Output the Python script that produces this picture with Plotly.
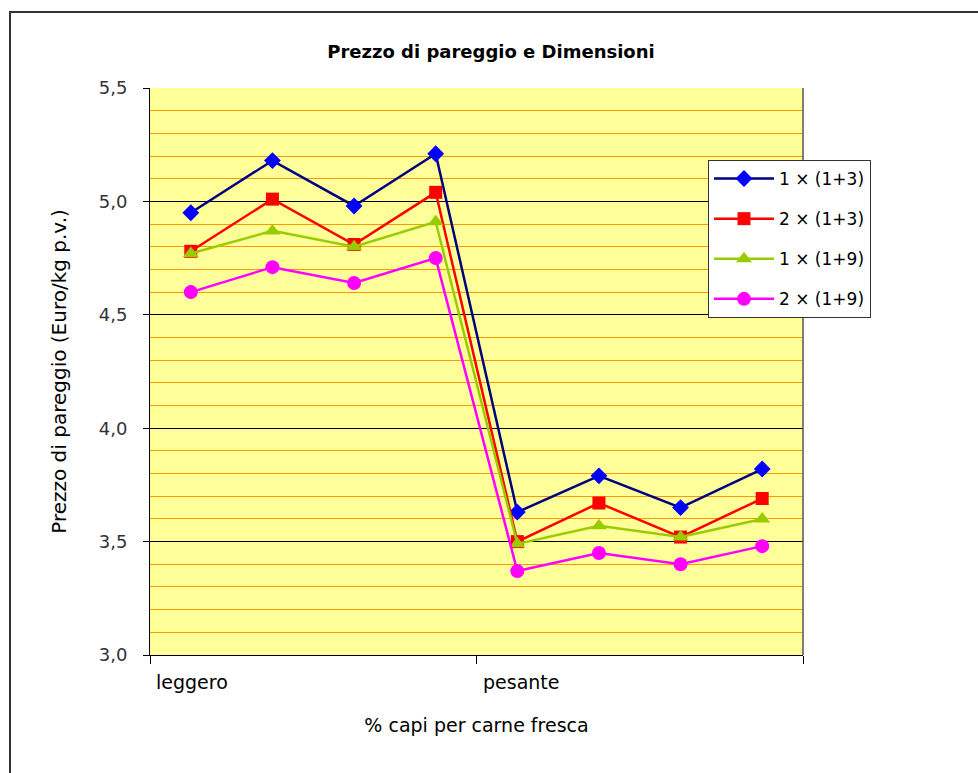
import plotly.graph_objects as go

# Data
positions = [0.5, 1.5, 2.5, 3.5, 4.5, 5.5, 6.5, 7.5]
group_labels = ["leggero", "pesante"]
group_starts = [0, 4]

series_names = ["1 \u00d7 (1+3)", "2 \u00d7 (1+3)", "1 \u00d7 (1+9)", "2 \u00d7 (1+9)"]
s1_1p3 = [4.95, 5.18, 4.98, 5.21, 3.63, 3.79, 3.65, 3.82]
s2_1p3 = [4.78, 5.01, 4.81, 5.04, 3.50, 3.67, 3.52, 3.69]
s1_1p9 = [4.77, 4.87, 4.80, 4.91, 3.49, 3.57, 3.52, 3.60]
s2_1p9 = [4.60, 4.71, 4.64, 4.75, 3.37, 3.45, 3.40, 3.48]

y_ticks = [3.0, 3.5, 4.0, 4.5, 5.0, 5.5]

styles = [
    dict(line="#000080", marker="#0000FF", symbol="diamond", size=13),
    dict(line="#FF0000", marker="#FF0000", symbol="square", size=13),
    dict(line="#99CC00", marker="#99CC00", symbol="triangle-up", size=14),
    dict(line="#FF00FF", marker="#FF00FF", symbol="circle", size=14),
]

fig = go.Figure()
for name, vals, st in zip(series_names, [s1_1p3, s2_1p3, s1_1p9, s2_1p9], styles):
    fig.add_trace(go.Scatter(
        x=positions, y=vals, name=name, mode="lines+markers",
        legendgroup=name,
        line=dict(color=st["line"], width=2.5),
        marker=dict(color=st["marker"], symbol=st["symbol"], size=st["size"],
                    line=dict(width=0)),
    ))

font_family = "DejaVu Sans, Verdana, sans-serif"

fig.update_layout(
    width=978, height=773,
    margin=dict(l=150, r=175, t=88, b=118),
    paper_bgcolor="white",
    plot_bgcolor="#FFFF99",
    separators=",.",
    font=dict(family=font_family, size=18, color="#000000"),
    title=dict(text="<b>Prezzo di pareggio e Dimensioni</b>", x=0.502, xanchor="center",
               xref="container", y=1 - 52 / 773, yanchor="middle",
               font=dict(size=18, family=font_family, color="#000000")),
    showlegend=True,
    legend=dict(
        x=(708 - 150) / 653, xanchor="left",
        y=(655 - 160) / 567, yanchor="top",
        bgcolor="white", bordercolor="#333333", borderwidth=1,
        font=dict(size=17, family=font_family, color="#000000"),
        tracegroupgap=15,
        itemwidth=60,
    ),
    xaxis=dict(
        range=[0, 8], tickvals=[0, 4, 8], showticklabels=False,
        ticks="outside", ticklen=8, tickcolor="#000000",
        showgrid=False, zeroline=False,
        showline=True, linecolor="#000000", linewidth=1,
        title=dict(text="% capi per carne fresca", standoff=55,
                   font=dict(size=19, family=font_family)),
    ),
    yaxis=dict(
        range=[3.0, 5.5], tickvals=y_ticks, tickformat=".1f",
        ticks="outside", ticklen=6, tickcolor="#000000",
        ticklabelstandoff=12,
        showgrid=True, gridcolor="#000000", gridwidth=1,
        minor=dict(dtick=0.1, showgrid=True, gridcolor="#FF9900", gridwidth=1),
        zeroline=False,
        showline=True, linecolor="#000000", linewidth=1,
        tickfont=dict(size=18, color="#333333"),
        title=dict(text="Prezzo di pareggio (Euro/kg p.v.)", standoff=26,
                   font=dict(size=20, family=font_family)),
    ),
)

# group labels under the category axis
for lbl, start in zip(group_labels, group_starts):
    fig.add_annotation(x=start + 0.05, y=0, xref="x", yref="paper",
                       text=lbl, showarrow=False, xanchor="left", yanchor="top",
                       yshift=-14, font=dict(size=19, family=font_family, color="#000000"))

# plot area outline on the right edge
fig.add_shape(type="line", xref="paper", yref="paper", x0=1, x1=1, y0=0, y1=1,
              line=dict(color="#555555", width=1.5))

# outer chart frame
fig.add_shape(type="rect", xref="paper", yref="paper",
              x0=(10 - 150) / 653, x1=(1100 - 150) / 653,
              y0=(655 - 900) / 567, y1=(655 - 12) / 567,
              line=dict(color="#333333", width=2))

fig.write_html("out.html")
